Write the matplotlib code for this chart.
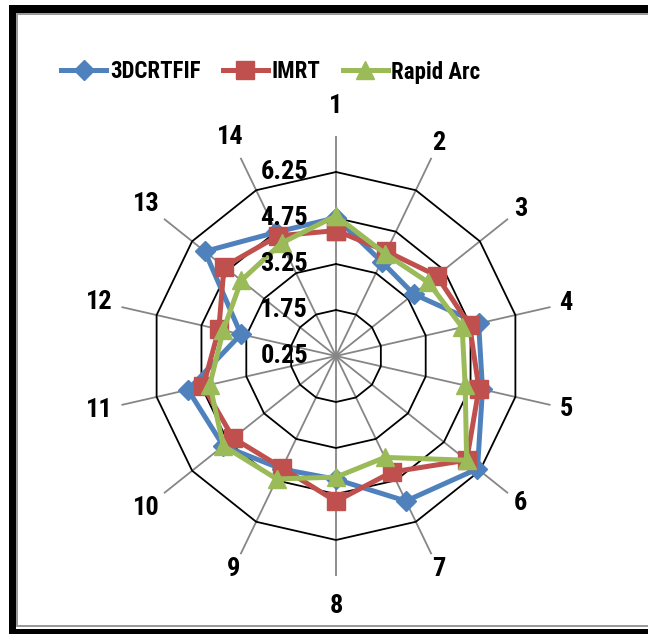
import numpy as np
import matplotlib
matplotlib.use("Agg")
import matplotlib.pyplot as plt
from matplotlib.patches import Rectangle
from matplotlib.lines import Line2D
from matplotlib.transforms import offset_copy

plt.rcParams['font.family'] = ['Roboto Condensed', 'Roboto', 'DejaVu Sans']

categories = [str(i) for i in range(1, 15)]
tick_values = [0.25, 1.75, 3.25, 4.75, 6.25]
tick_labels = ['0.25', '1.75', '3.25', '4.75', '6.25']

series_names = ['3DCRTFIF', 'IMRT', 'Rapid Arc']
dcrtfif = [4.76, 3.67, 3.49, 5.02, 5.15, 6.15, 5.50, 4.27, 4.34, 4.95, 5.20, 3.43, 5.72, 4.73]
imrt = [4.34, 4.04, 4.45, 4.72, 5.03, 5.70, 4.45, 4.99, 4.30, 4.54, 4.69, 4.17, 4.92, 4.60]
rapid_arc = [4.82, 3.95, 4.10, 4.47, 4.57, 5.70, 3.92, 4.20, 4.70, 4.95, 4.47, 4.02, 4.20, 4.34]

colors = ['#4F81BD', '#C0504D', '#9BBB59']
markers = ['D', 's', '^']
msizes = [10, 12.5, 13]

W, H = 648, 634
fig = plt.figure(figsize=(W / 100, H / 100), dpi=100)

# polar area: centre at (336, 356) px, 6.25 ring at 184 px
cx, cy = 336, 356
scale = 184 / 6.0
half = 220
rmin = 0.25
rmax = rmin + half / scale
ax = fig.add_axes([(cx - half) / W, 1 - (cy + half) / H, 2 * half / W, 2 * half / H],
                  projection='polar')
ax.set_theta_zero_location('N')
ax.set_theta_direction(-1)
ax.set_ylim(rmin, rmax)
ax.set_xticks([])
ax.set_yticks([])
ax.grid(False)
ax.spines['polar'].set_visible(False)
ax.patch.set_alpha(0)

n = len(categories)
theta = np.arange(n) * 2 * np.pi / n
closed = np.append(theta, theta[0])

# spokes and polygon rings
for t in theta:
    ax.plot([t, t], [rmin, rmax], color='#868686', lw=1.3, zorder=1)
for v in tick_values[1:]:
    ax.plot(closed, [v] * (n + 1), color='black', lw=1.3, zorder=1)

for name, vals, c, m, s in zip(series_names, [dcrtfif, imrt, rapid_arc], colors, markers, msizes):
    ax.plot(closed, vals + vals[:1], color=c, lw=3.6, marker=m, ms=s,
            mfc=c, mec=c, label=name, zorder=3, clip_on=False)

# radial tick labels, left of the vertical spoke
tr = offset_copy(ax.transData, fig=fig, x=-28, y=0, units='dots')
for v, lab in zip(tick_values, tick_labels):
    ax.text(0, v, lab, transform=tr, ha='right', va='center', fontsize=19,
            fontweight='bold', zorder=4)

# category labels
for t, lab in zip(theta, categories):
    rp = 236
    if abs(np.cos(t)) > 0.99:
        rp = 250
    if len(lab) > 1:
        rp += 7
    ax.text(t, rmin + rp / scale, lab, ha='center', va='center', fontsize=19,
            fontweight='bold', clip_on=False)

handles = [Line2D([], [], color=c, lw=3.6, marker=m, ms=s)
           for c, m, s in zip(colors, markers, msizes)]
fig.legend(handles, series_names, loc='center', bbox_to_anchor=(271 / W, 1 - 72 / H),
           ncol=3, frameon=False, handlelength=1.96, handletextpad=0.17,
           columnspacing=0.96, prop={'weight': 'bold', 'size': 16.5})

# outer frame
def px_rect(x0, y0, x1, y1, color):
    fig.add_artist(Rectangle((x0 / W, 1 - y1 / H), (x1 - x0) / W, (y1 - y0) / H,
                             transform=fig.transFigure, color=color, lw=0))

px_rect(9, 5, 16, 634, 'black')
px_rect(9, 5, 648, 13, 'black')
px_rect(9, 629, 648, 634, 'black')
px_rect(16, 13, 18, 627, '#9a9a9a')
px_rect(16, 13, 648, 15, '#9a9a9a')
px_rect(16, 625, 648, 627, '#9a9a9a')

fig.savefig('out.png', dpi=100)
